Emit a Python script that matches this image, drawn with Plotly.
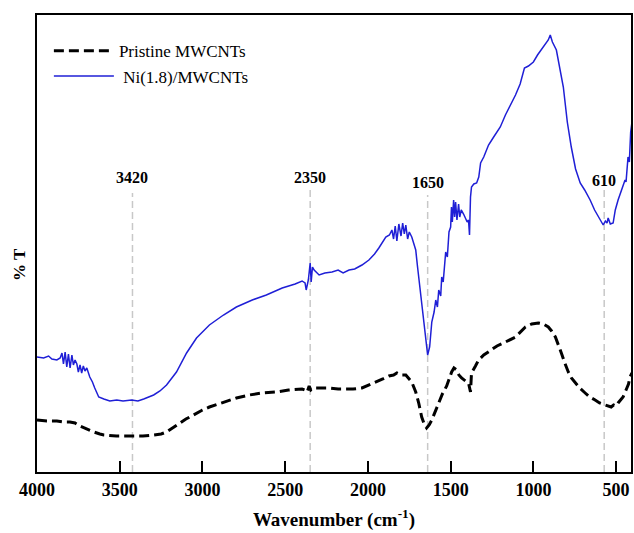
import plotly.graph_objects as go

# Pristine MWCNTs (black dashed)
pristine_wn = [4000, 3940, 3880, 3840, 3801, 3770, 3741, 3700, 3657, 3620, 3596, 3520, 3440, 3360, 3295, 3250,
               3217, 3180, 3139, 3100, 3054, 3000, 2958, 2900, 2873, 2795, 2717, 2640, 2554, 2480, 2398, 2380,
               2367, 2355, 2345, 2325, 2280, 2235, 2180, 2133, 2090, 2036, 1990, 1952, 1910, 1873, 1845, 1825,
               1800, 1771, 1750, 1735, 1711, 1693, 1675, 1660, 1645, 1630, 1614, 1590, 1572, 1550, 1524, 1510,
               1494, 1480, 1464, 1450, 1434, 1410, 1392, 1380, 1374, 1350, 1331, 1300, 1271, 1220, 1169, 1108,
               1048, 1010, 970, 940, 910, 890, 867, 850, 831, 810, 789, 770, 747, 720, 687, 660, 627, 600, 566,
               540, 530, 515, 500, 488, 470, 458, 440, 425, 416, 410, 404]
pristine_t = [52, 51, 51, 50, 50, 49, 46, 43, 40, 38, 37, 36, 36, 36, 37, 38,
              40, 44, 49, 53, 57, 62, 65, 68, 70, 74, 77, 79, 80, 82, 83, 82,
              80, 86, 82, 84, 84, 84, 83, 83, 83, 84, 87, 90, 93, 96, 97, 99,
              97, 97, 93, 90, 80, 69, 55, 48, 44, 47, 52, 62, 69, 78, 86, 93,
              100, 104, 102, 97, 94, 91, 89, 80, 99, 106, 112, 117, 120, 126, 130, 135,
              145, 148, 149, 148, 145, 141, 135, 128, 119, 109, 100, 94, 89, 84, 79, 75, 72, 69, 67,
              65, 65, 67, 66, 69, 72, 75, 82, 88, 95, 97, 99]

# Ni(1.8)/MWCNTs (blue)
ni_wn = [4000, 3960, 3930, 3910, 3880, 3860, 3849, 3840, 3830, 3820, 3810, 3800, 3789, 3780, 3770, 3759,
         3750, 3740, 3730, 3720, 3710, 3699, 3681, 3665, 3651, 3627, 3596, 3560, 3518, 3480, 3428, 3390,
         3355, 3295, 3257, 3217, 3157, 3096, 3036, 2958, 2873, 2795, 2699, 2614, 2518, 2440, 2398, 2380,
         2373, 2360, 2349, 2343, 2335, 2325, 2295, 2260, 2217, 2180, 2150, 2114, 2080, 2036, 1994, 1960,
         1934, 1910, 1892, 1870, 1855, 1845, 1835, 1825, 1813, 1800, 1790, 1780, 1771, 1760, 1750, 1735,
         1720, 1711, 1700, 1693, 1675, 1660, 1651, 1639, 1627, 1614, 1600, 1590, 1580, 1572, 1560, 1554,
         1545, 1530, 1520, 1510, 1500, 1495, 1490, 1482, 1476, 1470, 1462, 1452, 1445, 1436, 1422, 1410,
         1400, 1392, 1386, 1380, 1374, 1360, 1343, 1330, 1319, 1300, 1271, 1240, 1200, 1169, 1140, 1108,
         1080, 1054, 1030, 1000, 975, 952, 930, 910, 898, 885, 861, 840, 819, 795, 771, 745, 717, 690,
         657, 630, 608, 590, 578, 565, 555, 548, 535, 518, 505, 488, 470, 458, 446, 440, 428, 420, 412, 404]
ni_t = [115, 114, 116, 113, 112, 114, 119, 108, 120, 105, 118, 104, 117, 107, 112, 108,
        100, 107, 99, 106, 101, 104, 95, 90, 84, 75, 73, 71, 72, 71, 72, 71,
        73, 77, 81, 87, 100, 119, 134, 147, 157, 165, 172, 177, 184, 188, 191, 189,
        182, 192, 209, 190, 205, 202, 197, 199, 200, 202, 199, 202, 203, 207, 212, 218,
        224, 230, 235, 237, 242, 233, 246, 231, 248, 236, 249, 238, 247, 233, 240, 235,
        228, 222, 205, 195, 165, 145, 130, 117, 125, 150, 160, 172, 165, 182, 176, 195,
        190, 220, 215, 240, 245, 265, 250, 272, 255, 270, 252, 268, 255, 262, 258, 254,
        250, 252, 237, 275, 285, 288, 289, 295, 309, 315, 327, 335, 345, 357, 366, 377,
        388, 404, 406, 410, 417, 422, 428, 432, 437, 430, 422, 405, 385, 350, 325, 303, 289, 282,
        272, 262, 255, 250, 247, 251, 249, 254, 248, 249, 262, 272, 280, 286, 292, 290, 315, 310, 340, 350]

# Band markers
band_pos = [3423, 2349, 1639, 572]
band_labels = ["3420", "2350", "1650", "610"]
band_line_top = [279, 283, 277, 282]
band_label_y = [295, 295, 290, 292]

x_ticks = [4000, 3500, 3000, 2500, 2000, 1500, 1000, 500]

FONT = "Liberation Serif"

fig = go.Figure()
fig.add_trace(go.Scatter(x=pristine_wn, y=pristine_t, mode="lines", name="Pristine MWCNTs",
                         line=dict(color="black", width=3, dash="10px,5px")))
fig.add_trace(go.Scatter(x=ni_wn, y=ni_t, mode="lines", name=" Ni(1.8)/MWCNTs",
                         line=dict(color="#1f1fd6", width=1.5)))

for xp, lab, top, ly in zip(band_pos, band_labels, band_line_top, band_label_y):
    fig.add_shape(type="line", x0=xp, x1=xp, y0=0, y1=top, xref="x", yref="y",
                  line=dict(color="#c8c8c8", width=1.5, dash="7px,4px"), layer="below")
    fig.add_annotation(x=xp, y=ly, text="<b>" + lab + "</b>", showarrow=False,
                       font=dict(family=FONT, size=16, color="black"), xanchor="center", yanchor="middle")

fig.add_annotation(x=-0.0285, y=0.453, xref="paper", yref="paper", text="<b>% T</b>", textangle=-90,
                   showarrow=False, font=dict(family=FONT, size=17, color="black"),
                   xanchor="center", yanchor="middle")

fig.update_xaxes(range=[4000, 410], tickvals=x_ticks, ticktext=[f"<b>{v}</b>" for v in x_ticks],
                 ticks="inside", ticklen=11, tickwidth=2, tickcolor="black",
                 showline=True, linewidth=2, linecolor="black", mirror=True,
                 showgrid=False, zeroline=False,
                 tickfont=dict(family=FONT, size=18, color="black"),
                 title=dict(text="<b>Wavenumber (cm<sup>-1</sup>)</b>", font=dict(family=FONT, size=19, color="black"),
                            standoff=14))
fig.update_yaxes(range=[0, 457], showticklabels=False, ticks="",
                 showline=True, linewidth=2, linecolor="black", mirror=True,
                 showgrid=False, zeroline=False)

fig.update_layout(width=634, height=533, margin=dict(l=37, r=1, t=15, b=61),
                  paper_bgcolor="white", plot_bgcolor="white",
                  showlegend=True,
                  legend=dict(x=0.02, y=0.96, xanchor="left", yanchor="top",
                              font=dict(family=FONT, size=17, color="black"),
                              bgcolor="rgba(0,0,0,0)", itemwidth=60, tracegroupgap=0))

fig.write_html("out.html")
